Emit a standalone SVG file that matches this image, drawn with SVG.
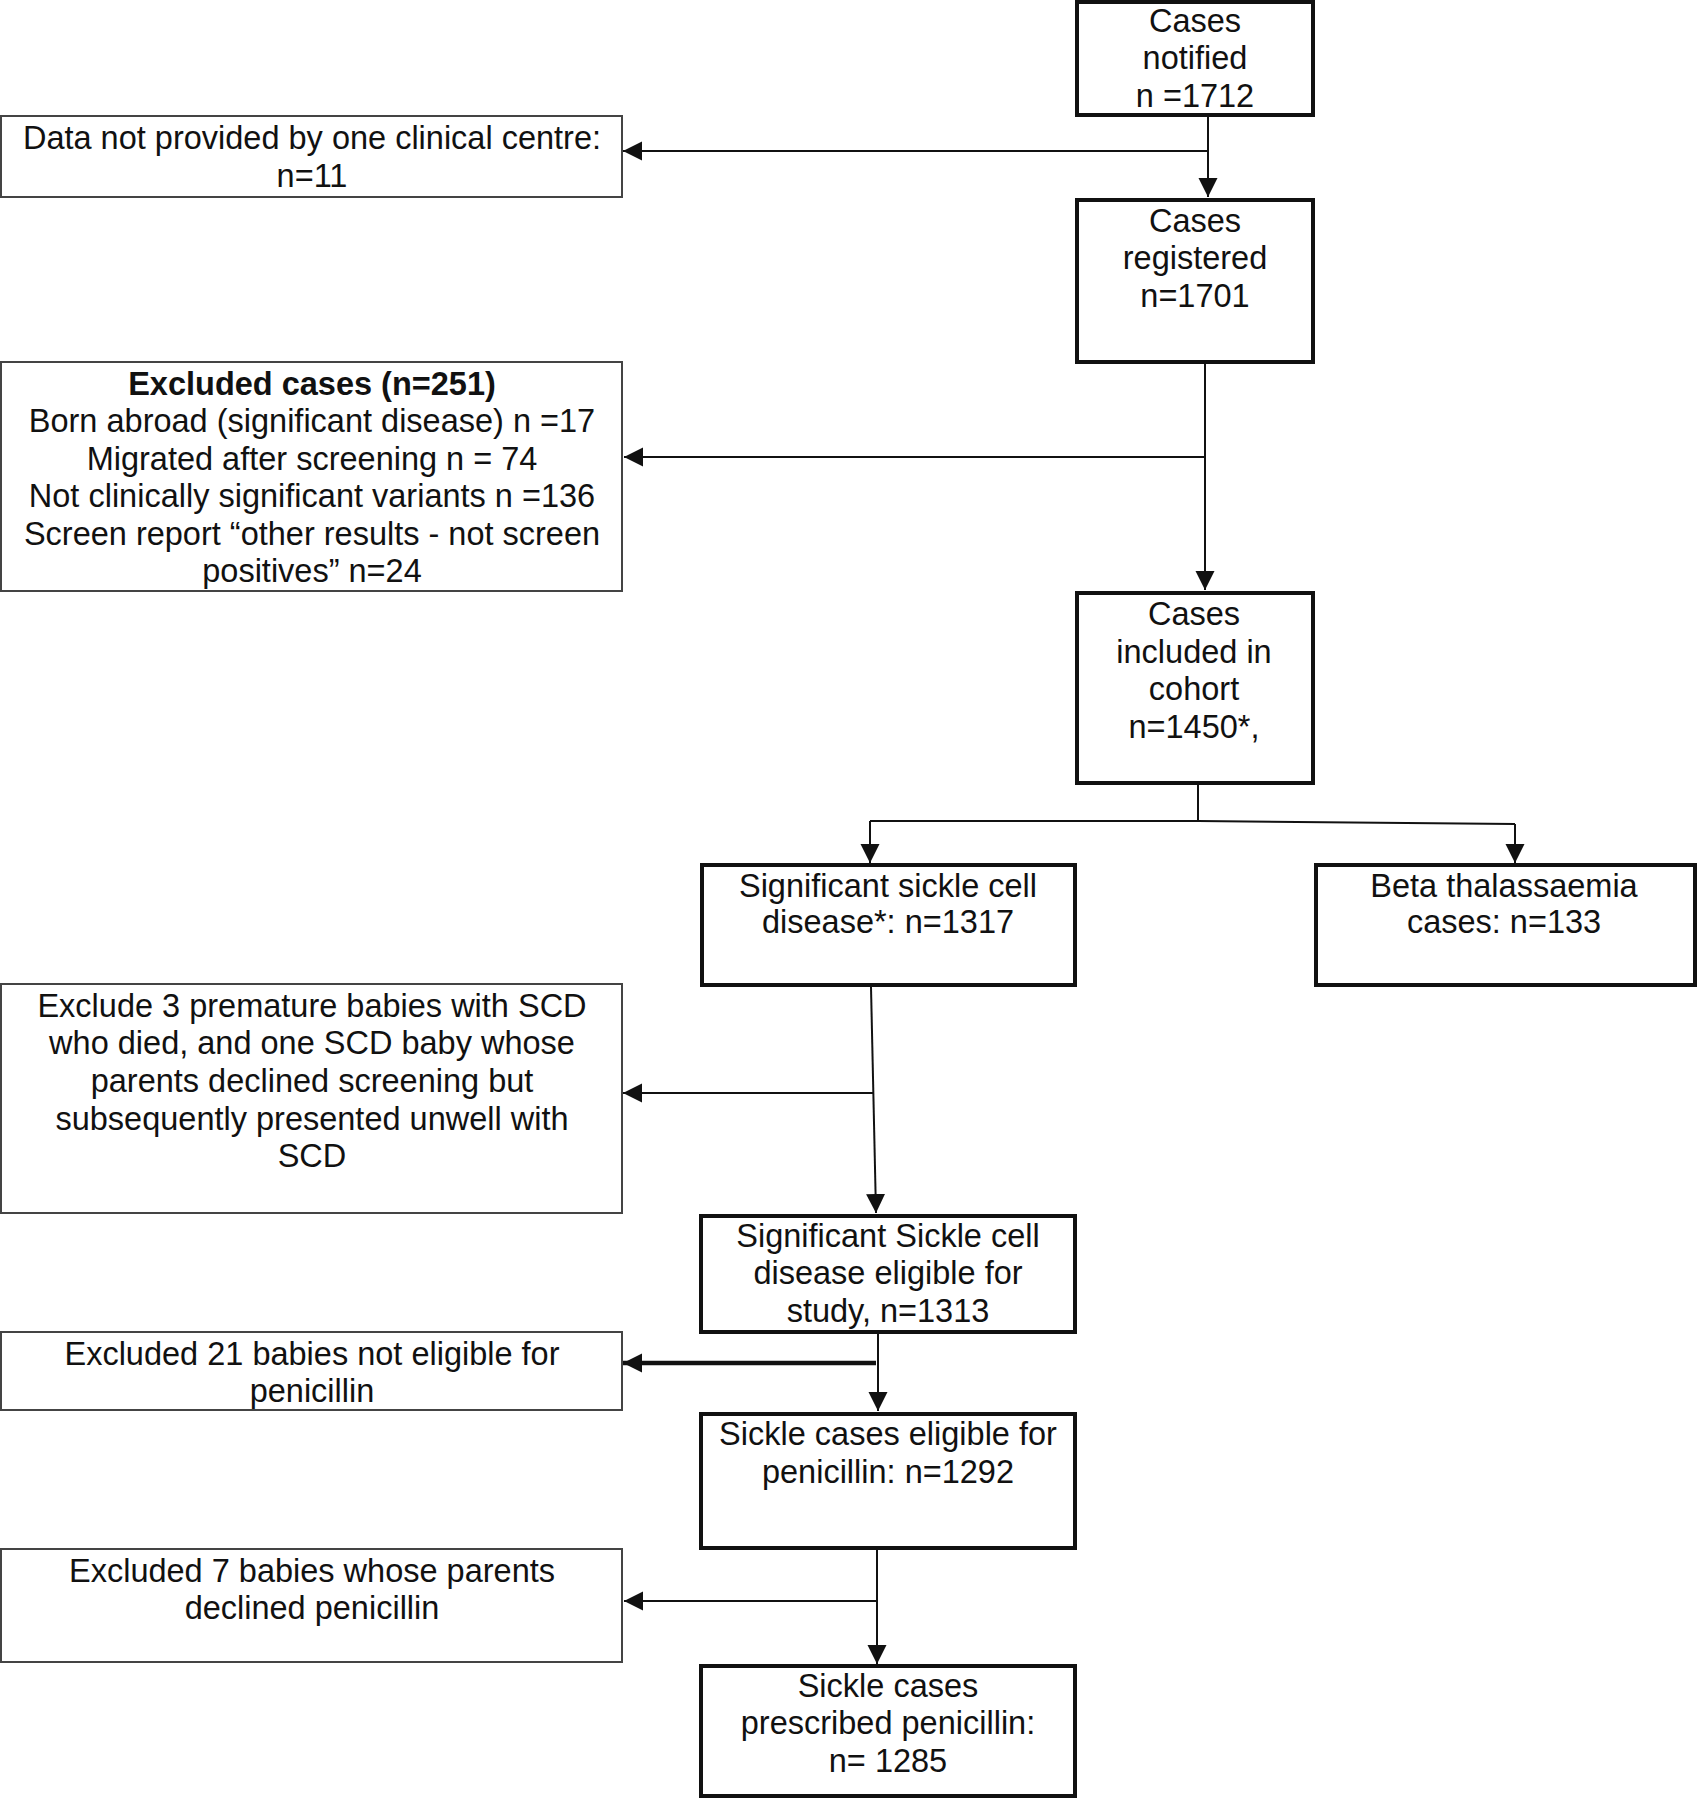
<svg xmlns="http://www.w3.org/2000/svg" width="1699" height="1800" viewBox="0 0 1699 1800">
<style>
text{font-family:"Liberation Sans",Arial,sans-serif;font-size:32.5px;fill:#111;text-anchor:middle}
.b{font-weight:bold}
.thick{fill:#fff;stroke:#111;stroke-width:4}
.thin{fill:#fff;stroke:#444;stroke-width:2}
.c{fill:none;stroke:#111;stroke-width:2}
.a{marker-end:url(#ah)}
</style>
<defs>
<marker id="ah" markerUnits="userSpaceOnUse" markerWidth="20" markerHeight="20" refX="19" refY="10" orient="auto">
<path d="M0,0.5 L19,10 L0,19.5 Z" fill="#111"/>
</marker>
</defs>
<rect width="1699" height="1800" fill="#fff"/>
<g id="connectors">
<line class="c a" x1="1208" y1="117" x2="1208" y2="197"/>
<line class="c a" x1="1208" y1="151" x2="623" y2="151"/>
<line class="c a" x1="1205" y1="364" x2="1205" y2="590"/>
<line class="c a" x1="1205" y1="457" x2="624" y2="457"/>
<line class="c" x1="1198" y1="785" x2="1198" y2="821"/>
<polyline class="c" points="870,821 1198,821 1515,824"/>
<line class="c a" x1="870" y1="821" x2="870" y2="863"/>
<line class="c a" x1="1515" y1="824" x2="1515" y2="863"/>
<line class="c a" x1="871" y1="987" x2="876" y2="1213"/>
<line class="c a" x1="873" y1="1093" x2="623" y2="1093"/>
<line class="c a" x1="878" y1="1334" x2="878" y2="1411"/>
<line class="c a" x1="876" y1="1363" x2="623" y2="1363" style="stroke-width:4.5"/>
<line class="c a" x1="877" y1="1550" x2="877" y2="1664"/>
<line class="c a" x1="877" y1="1601" x2="624" y2="1601"/>
</g>
<g id="n_notified">
<rect class="thick" x="1077" y="2" width="236" height="113"/>
<text x="1195" y="32">Cases</text>
<text x="1195" y="69">notified</text>
<text x="1195" y="107">n =1712</text>
</g>
<g id="n_datanot">
<rect class="thin" x="1" y="116" width="621" height="81"/>
<text x="312" y="149">Data not provided by one clinical centre:</text>
<text x="312" y="187">n=11</text>
</g>
<g id="n_registered">
<rect class="thick" x="1077" y="200" width="236" height="162"/>
<text x="1195" y="232">Cases</text>
<text x="1195" y="269">registered</text>
<text x="1195" y="307">n=1701</text>
</g>
<g id="n_excluded">
<rect class="thin" x="1" y="362" width="621" height="229"/>
<text class="b" x="312" y="395">Excluded cases (n=251)</text>
<text x="312" y="432">Born abroad (significant disease) n =17</text>
<text x="312" y="470">Migrated after screening n = 74</text>
<text x="312" y="507">Not clinically significant variants n =136</text>
<text x="312" y="545">Screen report “other results - not screen</text>
<text x="312" y="582">positives” n=24</text>
</g>
<g id="n_included">
<rect class="thick" x="1077" y="593" width="236" height="190"/>
<text x="1194" y="625">Cases</text>
<text x="1194" y="663">included in</text>
<text x="1194" y="700">cohort</text>
<text x="1194" y="738">n=1450*,</text>
</g>
<g id="n_scd">
<rect class="thick" x="702" y="865" width="373" height="120"/>
<text x="888" y="897">Significant sickle cell</text>
<text x="888" y="933">disease*: n=1317</text>
</g>
<g id="n_beta">
<rect class="thick" x="1316" y="865" width="379" height="120"/>
<text x="1504" y="897">Beta thalassaemia</text>
<text x="1504" y="933">cases: n=133</text>
</g>
<g id="n_exclude3">
<rect class="thin" x="1" y="984" width="621" height="229"/>
<text x="312" y="1017">Exclude 3 premature babies with SCD</text>
<text x="312" y="1054">who died, and one SCD baby whose</text>
<text x="312" y="1092">parents declined screening but</text>
<text x="312" y="1130">subsequently presented unwell with</text>
<text x="312" y="1167">SCD</text>
</g>
<g id="n_study">
<rect class="thick" x="701" y="1216" width="374" height="116"/>
<text x="888" y="1247">Significant Sickle cell</text>
<text x="888" y="1284">disease eligible for</text>
<text x="888" y="1322">study, n=1313</text>
</g>
<g id="n_excluded21">
<rect class="thin" x="1" y="1332" width="621" height="78"/>
<text x="312" y="1365">Excluded 21 babies not eligible for</text>
<text x="312" y="1402">penicillin</text>
</g>
<g id="n_eligiblepen">
<rect class="thick" x="701" y="1414" width="374" height="134"/>
<text x="888" y="1445">Sickle cases eligible for</text>
<text x="888" y="1483">penicillin: n=1292</text>
</g>
<g id="n_excluded7">
<rect class="thin" x="1" y="1549" width="621" height="113"/>
<text x="312" y="1582">Excluded 7 babies whose parents</text>
<text x="312" y="1619">declined penicillin</text>
</g>
<g id="n_prescribed">
<rect class="thick" x="701" y="1666" width="374" height="130"/>
<text x="888" y="1697">Sickle cases</text>
<text x="888" y="1734">prescribed penicillin:</text>
<text x="888" y="1772">n= 1285</text>
</g>
</svg>
